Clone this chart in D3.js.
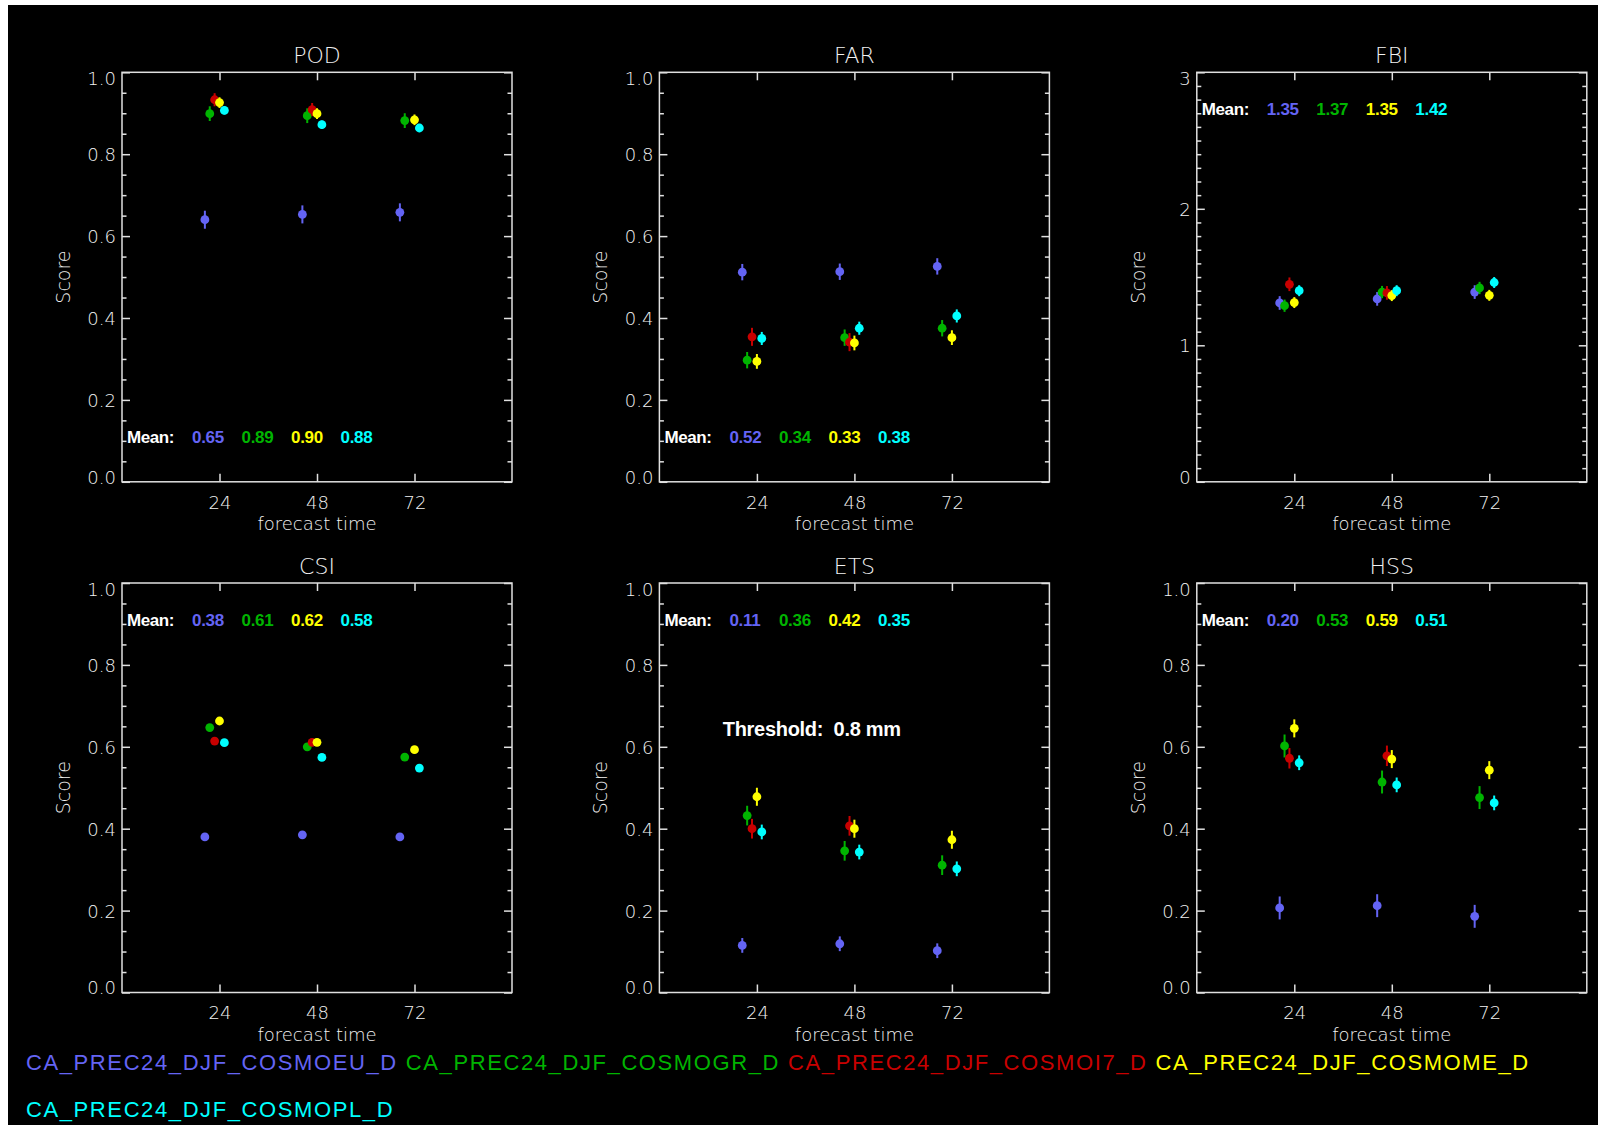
<!DOCTYPE html>
<html>
<head>
<meta charset="utf-8">
<script src="https://cdn.jsdelivr.net/npm/d3@7"></script>
<style>
  html, body { margin: 0; padding: 0; background: #ffffff; }
  svg { display: block; }
  .tick-label { font-family: "DejaVu Sans", sans-serif; font-weight: 200; fill: #f2f2f2; }
  .mean-label { font-family: "Liberation Sans", Arial, sans-serif; font-weight: bold; white-space: pre; }
</style>
</head>
<body>
<svg id="chart" width="1598" height="1125"></svg>
<script>
// ---- data -------------------------------------------------------------
const forecastHours = [24, 48, 72];

const modelNames = [
  "CA_PREC24_DJF_COSMOEU_D",
  "CA_PREC24_DJF_COSMOGR_D",
  "CA_PREC24_DJF_COSMOI7_D",
  "CA_PREC24_DJF_COSMOME_D",
  "CA_PREC24_DJF_COSMOPL_D"
];
const modelColors = ["#6464f4", "#00b400", "#c80000", "#ffff00", "#00ffff"];

const scoreNames = ["POD", "FAR", "FBI", "CSI", "ETS", "HSS"];

// one row per model, one value per forecast hour (null = no verification)
const podScores = [
  [0.640, 0.653, 0.658],
  [0.899, 0.894, 0.882],
  [0.933, 0.909, null],
  [0.926, 0.899, 0.884],
  [0.907, 0.872, 0.864]
];
const farScores = [
  [0.512, 0.513, 0.526],
  [0.297, 0.352, 0.375],
  [0.354, 0.341, null],
  [0.294, 0.339, 0.352],
  [0.350, 0.375, 0.405]
];
const fbiScores = [
  [1.31, 1.34, 1.39],
  [1.29, 1.39, 1.42],
  [1.447, 1.384, null],
  [1.313, 1.364, 1.366],
  [1.40, 1.40, 1.46]
];
const csiScores = [
  [0.380, 0.385, 0.380],
  [0.647, 0.600, 0.575],
  [0.614, 0.611, null],
  [0.663, 0.611, 0.593],
  [0.610, 0.574, 0.548]
];
const etsScores = [
  [0.115, 0.119, 0.102],
  [0.432, 0.346, 0.311],
  [0.400, 0.407, null],
  [0.478, 0.400, 0.373],
  [0.392, 0.343, 0.302]
];
const hssScores = [
  [0.2065, 0.212, 0.186],
  [0.602, 0.514, 0.476],
  [0.572, 0.578, null],
  [0.645, 0.570, 0.543],
  [0.561, 0.507, 0.463]
];

// half-length of the uncertainty bar, one value per model
const podErrors = [0.022, 0.018, 0.016, 0.013, 0.010];
const farErrors = [0.020, 0.020, 0.022, 0.018, 0.016];
const fbiErrors = [0.050, 0.045, 0.050, 0.040, 0.040];
const csiErrors = [0.004, 0.004, 0.004, 0.004, 0.004];
const etsErrors = [0.018, 0.024, 0.024, 0.022, 0.018];
const hssErrors = [0.028, 0.028, 0.025, 0.022, 0.018];

const yAxisMax = [1, 1, 3, 1, 1, 1];
const thresholdLabel = "Threshold:  0.8 mm";

// ---- layout -----------------------------------------------------------
const svg = d3.select("#chart");
svg.append("rect").attr("x", 8).attr("y", 5).attr("width", 1590).attr("height", 1120).attr("fill", "#000");

const boxW = 390, boxH = 409.5;
const colLeft = c => 122 + c * 537.4;
const rowTop = r => 72.3 + r * 510.7;
const axisColor = "#e0e0e0";

const panels = [
  { scores: podScores, errors: podErrors, meanLow: true },
  { scores: farScores, errors: farErrors, meanLow: true },
  { scores: fbiScores, errors: fbiErrors, meanLow: false },
  { scores: csiScores, errors: csiErrors, meanLow: false },
  { scores: etsScores, errors: etsErrors, meanLow: false, note: thresholdLabel },
  { scores: hssScores, errors: hssErrors, meanLow: false }
];

const x = d3.scaleLinear().domain([0, 96]).range([0, boxW]);

panels.forEach((p, i) => {
  const col = i % 3, row = Math.floor(i / 3);
  const g = svg.append("g").attr("transform", `translate(${colLeft(col)},${rowTop(row)})`);
  const yMax = yAxisMax[i];
  const y = d3.scaleLinear().domain([0, yMax]).range([boxH, 0]);

  const majorStep = yMax === 1 ? 0.2 : 1;
  const minorStep = yMax === 1 ? 0.05 : 0.1;
  const majors = d3.range(0, yMax + 1e-9, majorStep).map(v => +v.toFixed(3));
  const minors = d3.range(0, yMax + 1e-9, minorStep).map(v => +v.toFixed(3))
    .filter(v => majors.every(m => Math.abs(m - v) > 1e-6));
  const fmt = yMax === 1 ? d3.format(".1f") : d3.format("d");

  const styleAxis = sel => {
    sel.select(".domain").remove();
    sel.selectAll("line").attr("stroke", axisColor).attr("stroke-width", 1.5);
  };

  // left axis with labels
  const left = g.append("g").call(d3.axisLeft(y).tickValues(majors).tickSize(-8).tickPadding(6).tickFormat(fmt));
  styleAxis(left);
  left.selectAll("text").attr("class", "tick-label").attr("font-size", 18).attr("dy", "0.36em")
    .attr("transform", d => d === 0 ? "translate(0,-5)" : (Math.abs(d - yMax) < 1e-9 ? "translate(0,6)" : null));
  g.append("g").call(d3.axisLeft(y).tickValues(minors).tickSize(-4.5).tickFormat("")).call(styleAxis);

  // right axis (ticks only)
  g.append("g").attr("transform", `translate(${boxW},0)`)
    .call(d3.axisRight(y).tickValues(majors).tickSize(-8).tickFormat("")).call(styleAxis);
  g.append("g").attr("transform", `translate(${boxW},0)`)
    .call(d3.axisRight(y).tickValues(minors).tickSize(-4.5).tickFormat("")).call(styleAxis);

  // bottom and top axes
  const bottom = g.append("g").attr("transform", `translate(0,${boxH})`)
    .call(d3.axisBottom(x).tickValues(forecastHours).tickSize(-8).tickPadding(14));
  styleAxis(bottom);
  bottom.selectAll("text").attr("class", "tick-label").attr("font-size", 18);
  g.append("g").call(d3.axisTop(x).tickValues(forecastHours).tickSize(-8).tickFormat("")).call(styleAxis);

  // frame
  g.append("rect").attr("width", boxW).attr("height", boxH)
    .attr("fill", "none").attr("stroke", axisColor).attr("stroke-width", 1.5);

  // titles
  g.append("text").attr("class", "tick-label").attr("x", boxW / 2).attr("y", -9)
    .attr("text-anchor", "middle").attr("font-size", 22).text(scoreNames[i]);
  g.append("text").attr("class", "tick-label").attr("x", boxW / 2).attr("y", boxH + 48.5)
    .attr("text-anchor", "middle").attr("font-size", 18).text("forecast time");
  g.append("text").attr("class", "tick-label")
    .attr("transform", `translate(-52,${boxH / 2}) rotate(-90)`)
    .attr("text-anchor", "middle").attr("font-size", 19).text("Score");

  // points with uncertainty bars
  p.scores.forEach((series, m) => {
    const pts = series.map((v, k) => ({ v, h: forecastHours[k] })).filter(d => d.v !== null);
    const px = d => x(d.h + (m - 3) * 1.2);
    const mg = g.append("g");
    mg.selectAll("line").data(pts).join("line")
      .attr("x1", px).attr("x2", px)
      .attr("y1", d => y(d.v - p.errors[m])).attr("y2", d => y(d.v + p.errors[m]))
      .attr("stroke", modelColors[m]).attr("stroke-width", 2);
    mg.selectAll("circle").data(pts).join("circle")
      .attr("cx", px).attr("cy", d => y(d.v)).attr("r", 4.4)
      .attr("fill", modelColors[m]);
  });

  // mean of each complete series
  const meanY = y(yMax * (p.meanLow ? 0.095 : 0.895));
  g.append("text").attr("class", "mean-label").attr("x", 5).attr("y", meanY)
    .attr("font-size", 17).attr("fill", "#ffffff").attr("letter-spacing", -0.4).text("Mean:");
  let slot = 0;
  p.scores.forEach((series, m) => {
    if (series.some(v => v === null)) return;
    g.append("text").attr("class", "mean-label").attr("x", 70 + slot * 49.5).attr("y", meanY)
      .attr("font-size", 17).attr("fill", modelColors[m]).attr("letter-spacing", -0.3)
      .text(d3.mean(series).toFixed(2));
    slot++;
  });

  if (p.note) {
    g.append("text").attr("class", "mean-label").attr("x", x(15.6)).attr("y", y(0.626))
      .attr("font-size", 20).attr("fill", "#ffffff").attr("letter-spacing", -0.3).text(p.note);
  }
});

// ---- legend: model names flowing across the bottom ------------------------
const legend = svg.append("g");
let lx = 26, ly = 1070;
modelNames.forEach((name, m) => {
  const t = legend.append("text").attr("x", lx).attr("y", ly)
    .attr("font-family", "'Liberation Sans', Arial, sans-serif").attr("font-size", 22)
    .attr("letter-spacing", 1.6).attr("fill", modelColors[m]).text(name);
  const w = t.node().getComputedTextLength();
  if (lx + w > 1590) {
    lx = 26; ly += 46.5;
    t.attr("x", lx).attr("y", ly);
  }
  lx += w + 8;
});
</script>
</body>
</html>
